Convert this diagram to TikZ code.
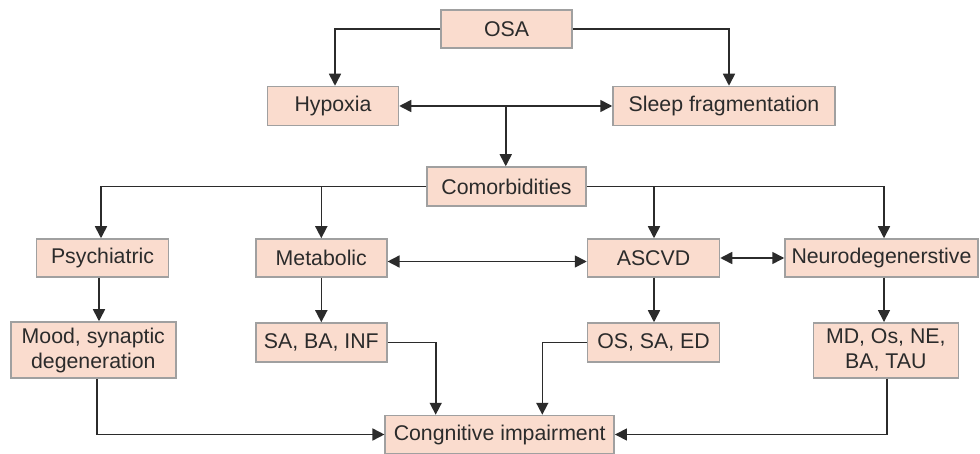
\documentclass[tikz,border=0pt]{standalone}
\usepackage{fontspec}
\setmainfont{Liberation Sans}
\usetikzlibrary{arrows.meta,calc}
\definecolor{boxfill}{RGB}{250,220,206}
\definecolor{boxline}{RGB}{160,160,160}
\definecolor{ink}{RGB}{43,43,43}
\tikzset{
  box/.style={draw=boxline, fill=boxfill, line width=1.5pt, inner sep=0pt,
    text=ink, font=\fontsize{21.3}{25}\selectfont, align=center},
  arr/.style={draw=ink, line width=1.6pt, -{Triangle[length=12pt,width=12pt]}},
  darr/.style={draw=ink, line width=1.6pt, {Triangle[length=12pt,width=12pt]}-{Triangle[length=12pt,width=12pt]}},
  ln/.style={draw=ink, line width=1.6pt}
}
\begin{document}
\begin{tikzpicture}[x=1pt,y=-1pt]
\useasboundingbox (0,0) rectangle (980,454);
% nodes
\node[box, minimum width=131pt, minimum height=38pt] (osa) at (506.5,29) {OSA};
\node[box, minimum width=131pt, minimum height=39pt] (hyp) at (333,106) {Hypoxia};
\node[box, minimum width=222pt, minimum height=39pt] (sleep) at (724,106) {Sleep fragmentation};
\node[box, minimum width=159pt, minimum height=39pt] (com) at (506.5,186.5) {Comorbidities};
\node[box, minimum width=132pt, minimum height=38pt] (psy) at (102.5,258) {Psychiatric};
\node[box, minimum width=131pt, minimum height=38pt] (met) at (321.3,258) {Metabolic};
\node[box, minimum width=132pt, minimum height=38pt] (asc) at (653.5,258) {ASCVD};
\node[box, minimum width=193pt, minimum height=38pt] (neu) at (881.5,258) {Neurodegenerstive};
\node[box, minimum width=165pt, minimum height=56pt] (mood) at (93.3,350) {Mood, synaptic\\degeneration};
\node[box, minimum width=131pt, minimum height=39pt] (sab) at (321.3,342.5) {SA, BA, INF};
\node[box, minimum width=132pt, minimum height=39pt] (oss) at (653.5,342.5) {OS, SA, ED};
\node[box, minimum width=145pt, minimum height=55pt] (md) at (885.8,350.3) {MD, Os, NE,\\BA, TAU};
\node[box, minimum width=229pt, minimum height=38pt] (cog) at (499.7,434.5) {Congnitive impairment};
% connectors
\draw[arr] (osa.west) -| ([xshift=2pt]hyp.north);
\draw[arr] (osa.east) -| ([xshift=5pt]sleep.north);
\draw[darr] (hyp.east) -- (sleep.west);
\coordinate (mid) at ($(hyp.east)!0.5!(sleep.west)$);
\draw[arr] (mid) -- (mid |- com.north);
\draw[arr] (com.west) -| ([xshift=-1.5pt]psy.north);
\draw[arr] (met.north |- com.west) -- (met.north);
\draw[arr] (com.east) -| ([xshift=2.5pt]neu.north);
\draw[arr] ([xshift=0.5pt]asc.north |- com.east) -- ([xshift=0.5pt]asc.north);
\draw[darr] ([yshift=-3.5pt]met.east) -- ([yshift=-3.5pt]asc.west);
\draw[darr] (asc.east) -- (neu.west);
\draw[arr] ([xshift=-3.5pt]psy.south) -- ([xshift=-3.5pt]psy.south |- mood.north);
\draw[arr] (met.south) -- (sab.north);
\draw[arr] ([xshift=0.5pt]asc.south) -- ([xshift=0.5pt]oss.north);
\draw[arr] ([xshift=2.5pt]neu.south) -- ([xshift=2.5pt]neu.south |- md.north);
\draw[arr] ([xshift=3.4pt]mood.south) |- (cog.west);
\draw[arr] (sab.east) -| ([xshift=-64pt]cog.north);
\draw[arr] (oss.west) -| ([xshift=42.6pt]cog.north);
\draw[arr] ([xshift=1.2pt]md.south) |- (cog.east);
\end{tikzpicture}
\end{document}
